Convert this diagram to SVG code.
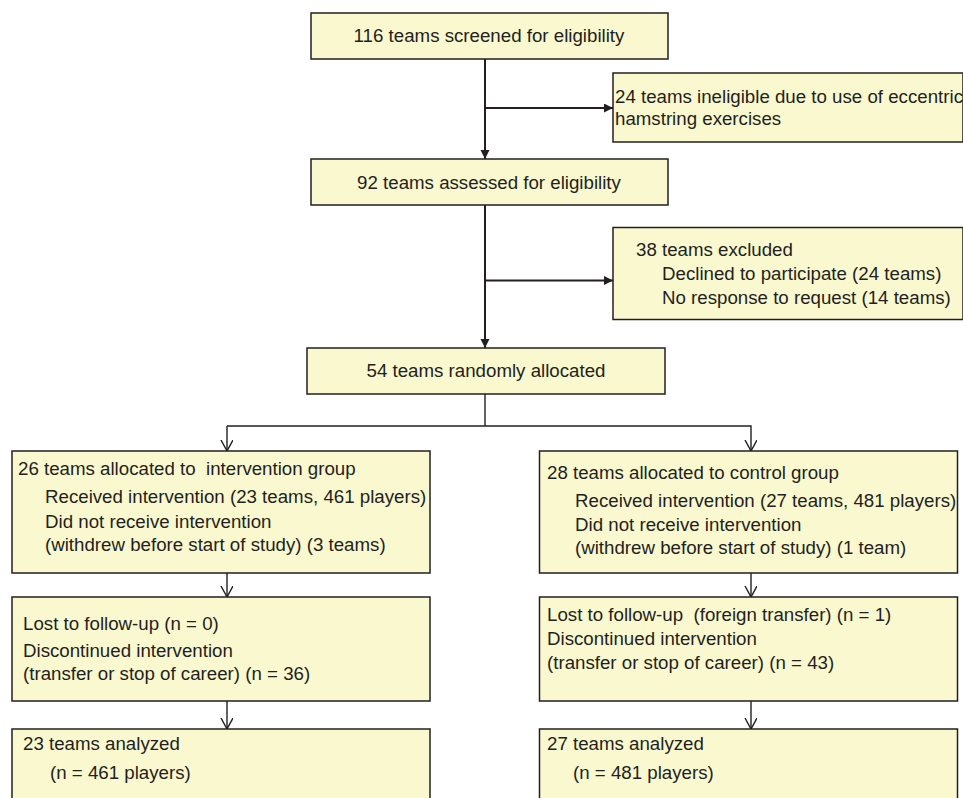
<svg xmlns="http://www.w3.org/2000/svg" width="963" height="798" viewBox="0 0 963 798">
<style>
.box{fill:#faf8cf;stroke:#231f20;stroke-width:1.5}
text{font-family:"Liberation Sans",Arial,sans-serif;font-size:18.7px;fill:#231f20;white-space:pre}
.c{text-anchor:middle}
.thick{stroke:#231f20;stroke-width:2;fill:none}
.thin{stroke:#231f20;stroke-width:1.4;fill:none}
</style>
<defs>
<marker id="fa" markerWidth="12" markerHeight="12" refX="9" refY="4.5" orient="auto" markerUnits="userSpaceOnUse">
<path d="M0,0 L9,4.5 L0,9 Z" fill="#231f20"/>
</marker>
<marker id="oa" markerWidth="14" markerHeight="14" refX="11" refY="6" orient="auto" markerUnits="userSpaceOnUse">
<path d="M0,0 L11,6 L0,12" fill="none" stroke="#231f20" stroke-width="1.4"/>
</marker>
</defs>
<g id="connectors">
<line class="thick" x1="485" y1="59" x2="485" y2="159" marker-end="url(#fa)"/>
<line class="thick" x1="485" y1="108" x2="613" y2="108" marker-end="url(#fa)"/>
<line class="thick" x1="485" y1="205" x2="485" y2="348" marker-end="url(#fa)"/>
<line class="thick" x1="485" y1="280.5" x2="613" y2="280.5" marker-end="url(#fa)"/>
<polyline class="thin" points="485,394 485,426"/>
<polyline class="thin" points="227,426 751,426 751,451" marker-end="url(#oa)"/>
<line class="thin" x1="227" y1="426" x2="227" y2="451" marker-end="url(#oa)"/>
<line class="thin" x1="227" y1="573" x2="227" y2="597" marker-end="url(#oa)"/>
<line class="thin" x1="751" y1="573" x2="751" y2="597" marker-end="url(#oa)"/>
<line class="thin" x1="227" y1="701" x2="227" y2="729" marker-end="url(#oa)"/>
<line class="thin" x1="751" y1="701" x2="751" y2="729" marker-end="url(#oa)"/>
</g>
<g id="screened">
<rect class="box" x="311" y="13" width="357" height="46"/>
<text class="c" x="489" y="42">116 teams screened for eligibility</text>
</g>
<g id="ineligible">
<rect class="box" x="613" y="73" width="350" height="69"/>
<text x="615" y="103">24 teams ineligible due to use of eccentric</text>
<text x="615" y="125">hamstring exercises</text>
</g>
<g id="assessed">
<rect class="box" x="311" y="159" width="357" height="46"/>
<text class="c" x="489" y="189">92 teams assessed for eligibility</text>
</g>
<g id="excluded">
<rect class="box" x="613" y="227.5" width="350" height="92"/>
<text x="636" y="256">38 teams excluded</text>
<text x="662" y="280">Declined to participate (24 teams)</text>
<text x="662" y="304">No response to request (14 teams)</text>
</g>
<g id="allocated">
<rect class="box" x="307" y="348" width="358" height="46"/>
<text class="c" x="486" y="377">54 teams randomly allocated</text>
</g>
<g id="intervention">
<rect class="box" x="12" y="451" width="418" height="122"/>
<text x="18" y="475">26 teams allocated to  intervention group</text>
<text x="45" y="503">Received intervention (23 teams, 461 players)</text>
<text x="45" y="527.5">Did not receive intervention</text>
<text x="45" y="551">(withdrew before start of study) (3 teams)</text>
</g>
<g id="control">
<rect class="box" x="539.5" y="451" width="418" height="122"/>
<text x="547" y="478.5">28 teams allocated to control group</text>
<text x="575" y="506.5">Received intervention (27 teams, 481 players)</text>
<text x="575" y="530.5">Did not receive intervention</text>
<text x="575" y="554">(withdrew before start of study) (1 team)</text>
</g>
<g id="followup-int">
<rect class="box" x="12" y="597" width="418" height="104"/>
<text x="23" y="629.5">Lost to follow-up (n = 0)</text>
<text x="23" y="656.5">Discontinued intervention</text>
<text x="23" y="680">(transfer or stop of career) (n = 36)</text>
</g>
<g id="followup-ctrl">
<rect class="box" x="539.5" y="597" width="418" height="104"/>
<text x="547" y="621">Lost to follow-up  (foreign transfer) (n = 1)</text>
<text x="547" y="645">Discontinued intervention</text>
<text x="547" y="668.5">(transfer or stop of career) (n = 43)</text>
</g>
<g id="analyzed-int">
<rect class="box" x="12" y="729" width="418" height="80"/>
<text x="23" y="749.5">23 teams analyzed</text>
<text x="50" y="778.5">(n = 461 players)</text>
</g>
<g id="analyzed-ctrl">
<rect class="box" x="539.5" y="729" width="418" height="80"/>
<text x="547" y="750">27 teams analyzed</text>
<text x="573" y="779">(n = 481 players)</text>
</g>
</svg>
